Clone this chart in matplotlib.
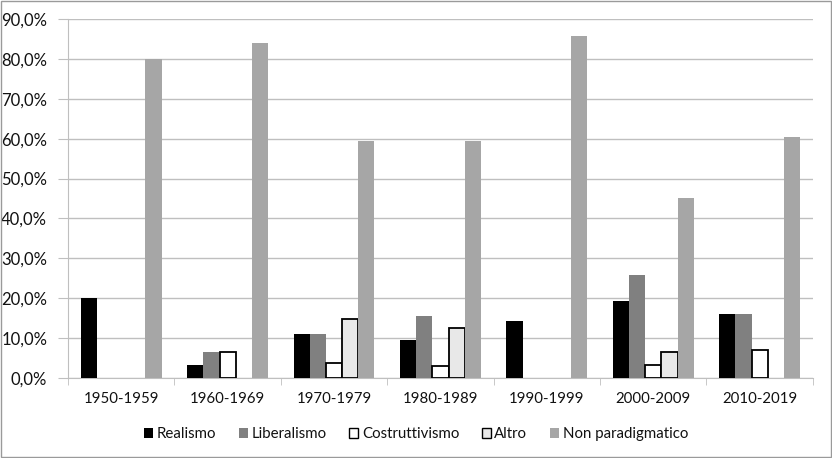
import numpy as np
import matplotlib
matplotlib.use("Agg")
import matplotlib.pyplot as plt
from matplotlib.ticker import FuncFormatter
from matplotlib.patches import Rectangle

plt.rcParams['font.family'] = ['Lato', 'DejaVu Sans']

nan = np.nan
decenni = ["1950-1959", "1960-1969", "1970-1979", "1980-1989",
           "1990-1999", "2000-2009", "2010-2019"]
realismo = [20.0, 3.3, 11.1, 9.4, 14.3, 19.4, 16.1]
liberalismo = [nan, 6.5, 11.1, 15.6, nan, 25.8, 16.1]
costruttivismo = [nan, 6.5, 3.7, 3.1, nan, 3.2, 7.0]
altro = [nan, nan, 14.8, 12.5, nan, 6.5, nan]
non_paradigmatico = [80.0, 83.9, 59.3, 59.4, 85.7, 45.2, 60.5]

serie = [
    ("Realismo", realismo, "#000000", "#000000"),
    ("Liberalismo", liberalismo, "#808080", "#808080"),
    ("Costruttivismo", costruttivismo, "#ffffff", "#000000"),
    ("Altro", altro, "#e8e8e8", "#000000"),
    ("Non paradigmatico", non_paradigmatico, "#a6a6a6", "#a6a6a6"),
]

fig = plt.figure(figsize=(8.32, 4.58), dpi=100)
ax = fig.add_axes([0.0817, 0.1747, 0.8953, 0.7838])

x = np.arange(len(decenni))
w = 0.152
handles = []
for i, (nome, vals, fc, ec) in enumerate(serie):
    lw = 1.3 if ec != fc else 0
    pos = x + (i - 2) * w
    ax.bar(pos, vals, w, color=fc, edgecolor=ec, linewidth=lw, zorder=3)
    handles.append(Rectangle((0, 0), 1, 1, facecolor=fc, edgecolor=ec, linewidth=1.0 if lw else 0))

ax.set_xlim(-0.5, len(decenni) - 0.5)
ax.set_ylim(0, 90)
ax.set_yticks(np.arange(0, 91, 10))
ax.yaxis.set_major_formatter(FuncFormatter(lambda v, p: f"{v:.1f}%".replace(".", ",")))
ax.yaxis.grid(True, color="#bfbfbf", linewidth=1.0, zorder=0)
ax.set_xticks(x)
ax.set_xticklabels(decenni)
ax.set_xticks(np.arange(-0.5, len(decenni)), minor=True)
ax.tick_params(axis="x", which="major", length=0, pad=10, labelsize=10.8, colors="#111111")
ax.tick_params(axis="x", which="minor", length=5, color="#bfbfbf", direction="out")
ax.tick_params(axis="y", length=7, color="#bfbfbf", labelcolor="#111111", labelsize=12, pad=8)

for s in ["top", "right"]:
    ax.spines[s].set_visible(False)
ax.spines["left"].set_color("#bfbfbf")
ax.spines["bottom"].set_color("#bfbfbf")

leg = fig.legend(handles, [s[0] for s in serie], loc="center", bbox_to_anchor=(0.5, 0.052),
                 ncol=5, frameon=False, fontsize=10.8, handlelength=0.6, handleheight=0.6,
                 handletextpad=0.25, columnspacing=1.5)
for t in leg.get_texts():
    t.set_color("#111111")

fig.patches.append(Rectangle((0.0015, 0.002), 0.997, 0.995, transform=fig.transFigure,
                             fill=False, edgecolor="#9a9a9a", linewidth=1.0))

fig.savefig("out.png", dpi=100)
